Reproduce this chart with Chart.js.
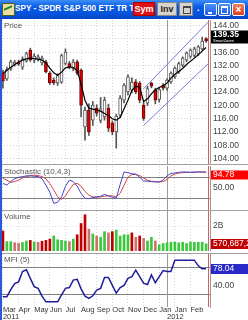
<!DOCTYPE html>
<html>
<head>
<meta charset="utf-8">
<script src="https://cdn.jsdelivr.net/npm/chart.js@4.4.1/dist/chart.umd.min.js"></script>
<style>
body { margin: 0; width: 248px; height: 320px; overflow: hidden; background: #fff; position: relative; font-family: "Liberation Sans", Arial, sans-serif; }
#title { position: absolute; left: 0; top: 0; width: 248px; height: 19px; background: linear-gradient(#3d8ef6, #0b5de6 35%, #0552dc 75%, #0444c4); }
#title .ttl { position: absolute; left: 15px; top: 4px; color: #fff; font-weight: bold; font-size: 8.2px; white-space: nowrap; }
#title .app { position: absolute; left: 2px; top: 3px; width: 11px; height: 11px; background: #e8e0a0; border: 1px solid #506020; }
#title .app:after { content: ""; position: absolute; left: 1px; top: 3px; width: 8px; height: 4px; border-top: 2px solid #208020; transform: skewY(-25deg); }
.btn { position: absolute; top: 2px; height: 14px; font-size: 9px; font-weight: bold; line-height: 13px; text-align: center; box-sizing: border-box; }
.sym { left: 133px; width: 22px; background: #e41010; color: #fff; border: 1px solid #a00; }
.inv { left: 157px; width: 20px; background: #d6d3cc; color: #222; border: 1px solid #888; }
.ico { left: 179px; width: 14px; background: #d6d3cc; border: 1px solid #888; }
.ico:after { content: ""; position: absolute; left: 3px; top: 3px; width: 6px; height: 5px; border: 1px solid #444; border-top-width: 2px; }
.dot { position: absolute; left: 197px; top: 3px; color: #fff; font-size: 9px; font-weight: bold; }
.wb { position: absolute; top: 3px; width: 13px; height: 13px; box-sizing: border-box; border: 1px solid #fff; border-radius: 2px; background: linear-gradient(#4a90f8, #1c5ee8); }
.wmin { left: 204px; } .wmin:after { content: ""; position: absolute; left: 3px; top: 8px; width: 4px; height: 2px; background: #fff; }
.wmax { left: 218px; } .wmax:after { content: ""; position: absolute; left: 2px; top: 2px; width: 5px; height: 5px; border: 1px solid #fff; border-top-width: 2px; }
.wcls { left: 232px; background: linear-gradient(#f08060, #d84020); color: #fff; font-size: 10px; line-height: 11px; text-align: center; font-weight: bold; }
#frame { position: absolute; left: 0; top: 19px; width: 2px; height: 301px; background: #2a5ad8; }
canvas { position: absolute; left: 0; }
.sep { position: absolute; left: 2px; width: 246px; height: 1px; background: #a0a0a0; }
.plabel { position: absolute; left: 4px; font-size: 8px; color: #555; white-space: nowrap; }
</style>
</head>
<body>
<div id="title">
  <div class="app"></div>
  <span class="ttl">SPY - SPDR S&amp;P 500 ETF TR T</span>
  <div class="btn sym">Sym</div>
  <div class="btn inv">Inv</div>
  <div class="btn ico"></div>
  <span class="dot">.</span>
  <div class="wb wmin"></div><div class="wb wmax"></div><div class="wb wcls">×</div>
</div>
<canvas id="price" width="248" height="144" style="top:20px"></canvas>
<canvas id="stoch" width="248" height="44" style="top:166px"></canvas>
<canvas id="vol" width="248" height="40" style="top:211px"></canvas>
<canvas id="mfi" width="248" height="66" style="top:254px"></canvas>
<div class="sep" style="top:164px"></div>
<div class="sep" style="top:210px"></div>
<div class="sep" style="top:253px"></div>
<div class="plabel" style="top:21px">Price</div>
<div class="plabel" style="top:167px">Stochastic (10,4,3)</div>
<div class="plabel" style="top:212px">Volume</div>
<div class="plabel" style="top:255px">MFI (5)</div>
<div id="frame"></div>
<script>
// weekly bars, Mar 2011 .. Feb 2012
const opens  = [129.7,128.0,131.0,132.4,133.0,131.5,133.3,136.6,133.6,133.8,132.8,133.1,129.7,127.6,126.8,127.0,132.6,132.6,131.0,133.1,130.6,113.6,118.6,115.6,119.2,115.5,116.6,119.2,114.7,112.1,117.1,121.6,124.1,124.6,127.1,126.7,120.1,120.7,126.7,124.6,121.8,126.1,125.2,127.1,128.6,130.1,132.1,133.6,134.7,135.0,135.5,137.0,140.1];
const highs  = [130.6,131.5,133.6,133.5,133.6,134.6,136.0,137.2,135.5,135.2,134.8,133.6,130.2,128.3,129.5,135.4,137.0,133.2,133.8,133.6,131.0,119.5,120.5,121.2,120.2,122.4,122.5,120.4,115.4,117.4,123.0,126.6,129.2,128.3,127.8,127.2,121.0,125.8,127.0,125.2,125.4,126.6,128.0,130.1,131.6,133.0,134.6,136.1,137.0,137.5,138.0,140.5,140.4];
const lows   = [125.2,127.5,130.5,131.8,132.0,130.8,133.0,133.2,132.8,133.3,132.2,129.8,126.3,126.2,126.0,126.6,132.2,131.0,130.4,129.2,116.6,109.6,111.0,114.0,116.8,114.8,115.6,112.2,111.2,107.2,116.4,120.8,123.2,123.8,123.5,120.8,115.5,120.0,125.3,120.5,121.0,124.6,124.6,126.6,128.1,129.6,131.6,133.1,134.2,134.5,135.0,136.6,138.9];
const closes = [127.4,130.8,133.1,133.0,132.4,134.0,135.6,133.7,134.8,134.6,134.2,130.1,126.8,126.8,129.0,135.0,136.0,131.6,133.0,129.7,120.1,118.6,112.1,120.1,117.7,119.0,121.6,113.2,112.1,116.8,122.2,126.1,128.6,127.0,124.1,121.6,116.1,125.1,125.8,121.6,124.8,125.2,127.6,129.7,131.2,132.6,134.2,135.7,136.6,137.0,137.6,139.3,139.35];
const movingAvg = [129.7,130.5,131.5,132.3,133.0,133.6,134.0,134.2,134.1,133.9,133.6,132.8,131.2,129.8,129.1,130.0,131.3,131.6,131.4,130.5,126.5,121.5,119.2,118.9,118.6,118.3,117.6,117.0,116.0,115.6,116.4,119.0,121.6,124.5,125.8,125.5,121.2,122.0,123.5,124.7,125.4,125.9,126.7,128.2,129.3,130.2,131.1,132.3,133.3,134.2,135.2,136.3,137.4];
const volumes = [1.6,0.75,0.75,0.67,0.62,0.68,0.8,0.85,0.72,0.7,0.78,0.85,0.95,1.2,0.9,0.85,0.8,0.75,0.95,1.3,2.2,2.9,1.75,1.36,1.2,1.1,1.55,1.45,1.55,1.68,1.2,1.3,1.3,1.45,1.1,1.2,1.0,0.8,1.1,0.8,0.5,0.6,0.65,0.7,0.72,0.65,0.7,0.6,0.72,0.7,0.7,0.7,0.570687]; // billions
const stochK = [63,58,68,76,80,82,84,84,83,82,76,58,38,7,10,25,55,72,68,55,35,21,20,23,25,27,32,28,24,21,60,95,93,90,89,80,70,69,68,67,67,72,84,91,92,94,95,95,94,95,95,95,94.78];
const stochD = [77,72,66,68,72,78,82,85,86,85,82,76,62,45,25,18,28,45,60,63,55,40,30,25,24,25,27,28,28,25,35,58,80,88,88,85,78,72,69,68,67,68,74,84,89,92,93,94,94,94,95,95,94];
const mfi = [14,14,30,44,48,72,76,56,37,33,15,2,2,2,2,18,33,35,52,54,32,15,10,16,29,33,58,58,40,22,35,40,56,60,75,60,45,42,64,46,60,74,72,72,98,98,98,98,98,98,85,78,78.04];

// regression channel (week, price)
const channelWeeks = [36, 52.5];
const channelUpper = [125.0, 145.0];
const channelLower = [114.0, 132.5];

const monthLabels = ['Mar','Apr','May','Jun','Jul','Aug','Sep','Oct','Nov','Dec','Jan','Jan','Feb'];
const monthWeeks = [0,4,8,12,16,20,24,28,32,36,40,44,48];
const yearLabels = ['2011', '2012'];
const yearWeeks = [0, 42];

const FONT = '"Liberation Sans", Arial, sans-serif';
const weeks = closes.map((c, i) => i);
const lastWeek = weeks.length - 1;

function noPad(s) {
  s.paddingTop = 0; s.paddingBottom = 0; s.paddingLeft = 0; s.paddingRight = 0;
}

function xAxis(showLabels) {
  const tickWeeks = [...new Set(monthWeeks.concat(yearWeeks))].sort((a, b) => a - b);
  return {
    type: 'linear', min: -0.5, max: lastWeek + 1, offset: false,
    afterBuildTicks: s => { s.ticks = tickWeeks.map(v => ({ value: v })); },
    afterFit: s => { s.height = showLabels ? 13 : 0; noPad(s); },
    ticks: {
      display: showLabels, autoSkip: false, maxRotation: 0, align: 'start', padding: 0,
      color: '#333', font: { family: FONT, size: 7.5, lineHeight: 0.85 },
      callback: v => {
        const m = monthWeeks.indexOf(v), y = yearWeeks.indexOf(v);
        if (m >= 0 && y >= 0) return [monthLabels[m], yearLabels[y]];
        if (y >= 0) return ['', yearLabels[y]];
        return m >= 0 ? monthLabels[m] : '';
      }
    },
    grid: { offset: false, drawTicks: false, color: c => (c.tick && c.tick.value === yearWeeks[1]) ? 'rgba(0,0,0,0)' : '#d4d4d4' },
    border: { display: false, dash: [1, 2] }
  };
}

function yAxis(min, max, tickVals, label, gridColor, dashed) {
  return {
    position: 'right', min: min, max: max,
    afterBuildTicks: s => { s.ticks = tickVals.map(v => ({ value: v })); },
    afterFit: s => { s.width = 38; noPad(s); },
    ticks: { autoSkip: false, padding: 3, color: '#444', font: { family: FONT, size: 8.5 }, callback: label },
    grid: { drawTicks: false, color: gridColor },
    border: { display: true, color: '#9a9a9a', dash: dashed ? [1, 2] : [] }
  };
}

// year divider, cursor line and last-value box
const overlay = {
  id: 'overlay',
  beforeDatasetsDraw(chart) {
    const { ctx, chartArea, scales: { x } } = chart;
    ctx.save();
    ctx.strokeStyle = '#9a9a9a';
    ctx.lineWidth = 1;
    const px = Math.round(x.getPixelForValue(yearWeeks[1])) + 0.5;
    ctx.beginPath(); ctx.moveTo(px, chartArea.top); ctx.lineTo(px, chartArea.bottom); ctx.stroke();
    ctx.restore();
  },
  afterDraw(chart, args, opts) {
    const { ctx, chartArea, scales: { x, y } } = chart;
    ctx.save();
    const cx = Math.round(x.getPixelForValue(lastWeek + 0.5)) + 0.5;
    ctx.strokeStyle = '#d06060';
    ctx.lineWidth = 1;
    ctx.beginPath(); ctx.moveTo(cx, chartArea.top); ctx.lineTo(cx, chartArea.bottom); ctx.stroke();
    if (opts.value !== undefined) {
      const by = Math.round(y.getPixelForValue(opts.value)) + opts.shift;
      ctx.fillStyle = opts.bg;
      ctx.fillRect(chartArea.right + 1, by - opts.h / 2, 37, opts.h);
      ctx.fillStyle = '#fff';
      ctx.font = (opts.bold ? 'bold ' : '') + '8.5px ' + FONT;
      ctx.textBaseline = 'middle';
      ctx.fillText(opts.text, chartArea.right + 3, by + (opts.textShift || 0));
      if (opts.sub) {
        ctx.font = '4px ' + FONT;
        ctx.fillText(opts.sub, chartArea.right + 3, by + 4);
      }
    }
    ctx.restore();
  }
};

function baseOptions(yScale, showX, box) {
  return {
    responsive: false, animation: false, devicePixelRatio: 1,
    layout: { padding: { left: 1, right: 0, top: 0, bottom: 0 } },
    plugins: { legend: { display: false }, tooltip: { enabled: false }, overlay: box || {} },
    scales: { x: xAxis(showX), y: yScale }
  };
}

const fixed2 = v => v.toFixed(2);

// price panel
new Chart(document.getElementById('price'), {
  type: 'bar',
  plugins: [overlay],
  data: {
    datasets: [
      { type: 'line', data: weeks.map(i => ({ x: i, y: movingAvg[i] })), borderColor: '#000', borderWidth: 1.2, pointRadius: 0, order: 0 },
      { type: 'line', data: channelWeeks.map((w, i) => ({ x: w, y: channelUpper[i] })), borderColor: '#7a7ad8', borderWidth: 1, pointRadius: 0, order: 0 },
      { type: 'line', data: channelWeeks.map((w, i) => ({ x: w, y: channelLower[i] })), borderColor: '#7a7ad8', borderWidth: 1, pointRadius: 0, order: 0 },
      { data: weeks.map(i => ({ x: i, y: [opens[i], closes[i]] })), grouped: false, barThickness: 3, borderWidth: 1, borderSkipped: false,
        backgroundColor: weeks.map(i => closes[i] >= opens[i] ? '#ffffff' : '#e00000'),
        borderColor: weeks.map(i => closes[i] >= opens[i] ? '#555555' : '#700000'), order: 1 },
      { data: weeks.map(i => ({ x: i, y: [lows[i], highs[i]] })), grouped: false, barThickness: 1, backgroundColor: '#555', order: 2 }
    ]
  },
  options: baseOptions(yAxis(102.44, 145.65, [104,108,112,116,120,124,128,132,136,140,144], fixed2, '#d4d4d4', true), false,
    { value: closes[lastWeek], text: closes[lastWeek].toFixed(2), bg: '#000', h: 13, shift: -4, textShift: -2, bold: true, sub: 'SmartZoom' })
});

// stochastic panel
new Chart(document.getElementById('stoch'), {
  type: 'line',
  plugins: [overlay],
  data: {
    datasets: [
      { data: weeks.map(i => ({ x: i, y: stochK[i] })), borderColor: '#4646c8', borderWidth: 1, pointRadius: 0 },
      { data: weeks.map(i => ({ x: i, y: stochD[i] })), borderColor: '#d24646', borderWidth: 1, pointRadius: 0 }
    ]
  },
  options: baseOptions(yAxis(-11.8, 111.8, [20, 50, 80], v => v === 50 ? '50.00' : '', c => c.tick && c.tick.value === 50 ? 'rgba(0,0,0,0)' : '#808080', false), false,
    { value: stochK[lastWeek], text: stochK[lastWeek].toFixed(2), bg: '#ff0000', h: 9, shift: 3 })
});

// volume panel
new Chart(document.getElementById('vol'), {
  type: 'bar',
  plugins: [overlay],
  data: {
    datasets: [
      { data: weeks.map(i => ({ x: i, y: volumes[i] })), barThickness: 2, grouped: false,
        backgroundColor: weeks.map(i => {
          const prev = i === 0 ? opens[0] : closes[i - 1];
          if (closes[i] >= prev) return '#3cc83c';
          return i > 0 && volumes[i] < volumes[i - 1] ? '#d07070' : '#c00000';
        }) }
    ]
  },
  options: baseOptions(yAxis(0, 3.2, [2], v => v === 2 ? '2B' : '', '#e0e0e0', true), false,
    { value: volumes[lastWeek], text: '570,687,256', bg: '#c00000', h: 10, shift: 0 })
});

// money flow index panel
new Chart(document.getElementById('mfi'), {
  type: 'line',
  plugins: [overlay],
  data: {
    datasets: [
      { data: weeks.map(i => ({ x: i, y: mfi[i] })), borderColor: '#1e1e9a', borderWidth: 1.5, pointRadius: 0 }
    ]
  },
  options: baseOptions(yAxis(-9.9, 112.2, [20, 40, 80], v => v === 40 ? '40.00' : '', c => c.tick && c.tick.value === 40 ? 'rgba(0,0,0,0)' : '#808080', false), true,
    { value: mfi[lastWeek], text: mfi[lastWeek].toFixed(2), bg: '#2a2ac8', h: 10, shift: 0 })
});
</script>
</body>
</html>
